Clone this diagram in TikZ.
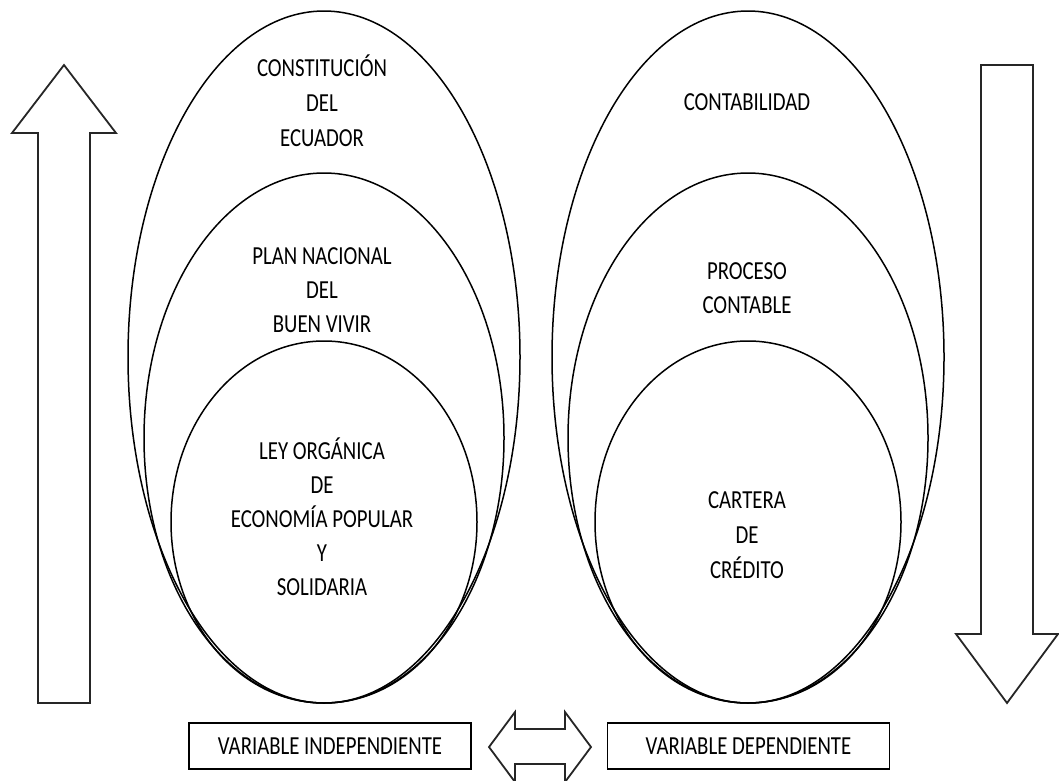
\documentclass[tikz,border=0pt]{standalone}
\usepackage{fontspec}
\setmainfont{Carlito}[FakeStretch=0.8]
\usetikzlibrary{shapes.geometric}

\tikzset{
  ring/.style={ellipse, draw=black, line width=1.5pt, inner sep=0pt, outer sep=0pt},
  lbl/.style={anchor=base, inner sep=0pt, font=\fontsize{26}{34}\selectfont},
  varbox/.style={draw=black, line width=1.5pt, minimum width=282pt, minimum height=46pt,
                 inner sep=0pt, font=\fontsize{26}{34}\selectfont},
  blockarrow/.style={draw=black!85, line width=1.8pt, line join=miter, fill=white}
}

\begin{document}
\begin{tikzpicture}[x=1pt, y=-1pt]
  \useasboundingbox (0,0) rectangle (1059,780);
  \clip (0,0) rectangle (1059,780);

  % left nested rings: legal framework
  \node[ring, minimum width=392pt, minimum height=692pt] (lout) at (324,357) {};
  \node[ring, minimum width=360pt, minimum height=530pt] (lmid) at (324,438) {};
  \node[ring, minimum width=306pt, minimum height=362pt] (lin)  at (324,522) {};

  % right nested rings: accounting
  \node[ring, minimum width=392pt, minimum height=692pt] (rout) at (748,357) {};
  \node[ring, minimum width=360pt, minimum height=530pt] (rmid) at (748,438) {};
  \node[ring, minimum width=306pt, minimum height=362pt] (rin)  at (748,522) {};

  % labels of the left rings
  \node[lbl] (la1) at (322,76)  {CONSTITUCIÓN};
  \node[lbl] (la2) at (322,111) {DEL};
  \node[lbl] (la3) at (322,146) {ECUADOR};
  \node[lbl] (lb1) at (322,264) {PLAN NACIONAL};
  \node[lbl] (lb2) at (322,298) {DEL};
  \node[lbl] (lb3) at (322,332) {BUEN VIVIR};
  \node[lbl] (lc1) at (322,459) {LEY ORGÁNICA};
  \node[lbl] (lc2) at (322,493) {DE};
  \node[lbl] (lc3) at (322,527) {ECONOMÍA POPULAR};
  \node[lbl] (lc4) at (322,561) {Y};
  \node[lbl] (lc5) at (322,595) {SOLIDARIA};

  % labels of the right rings
  \node[lbl] (ra1) at (747,110) {CONTABILIDAD};
  \node[lbl] (rb1) at (747,279) {PROCESO};
  \node[lbl] (rb2) at (747,313) {CONTABLE};
  \node[lbl] (rc1) at (747,508) {CARTERA};
  \node[lbl] (rc2) at (747,543) {DE};
  \node[lbl] (rc3) at (747,578) {CRÉDITO};

  % variable boxes
  \node[varbox] (vind) at (330,746) {VARIABLE INDEPENDIENTE};
  \node[varbox] (vdep) at (748.5,746) {VARIABLE DEPENDIENTE};

  % upward block arrow
  \draw[blockarrow] (64,65) -- (116,133) -- (90,133) -- (90,703) -- (38,703)
        -- (38,133) -- (12,133) -- cycle;

  % downward block arrow
  \draw[blockarrow] (981,65) -- (1033,65) -- (1033,634) -- (1058,634) -- (1007,703)
        -- (956,634) -- (981,634) -- cycle;

  % two-headed block arrow between the boxes
  \draw[blockarrow] (489,747) -- (515,712) -- (515,729) -- (565,729) -- (565,712)
        -- (591,747) -- (565,782) -- (565,764) -- (515,764) -- (515,782) -- cycle;
\end{tikzpicture}
\end{document}
